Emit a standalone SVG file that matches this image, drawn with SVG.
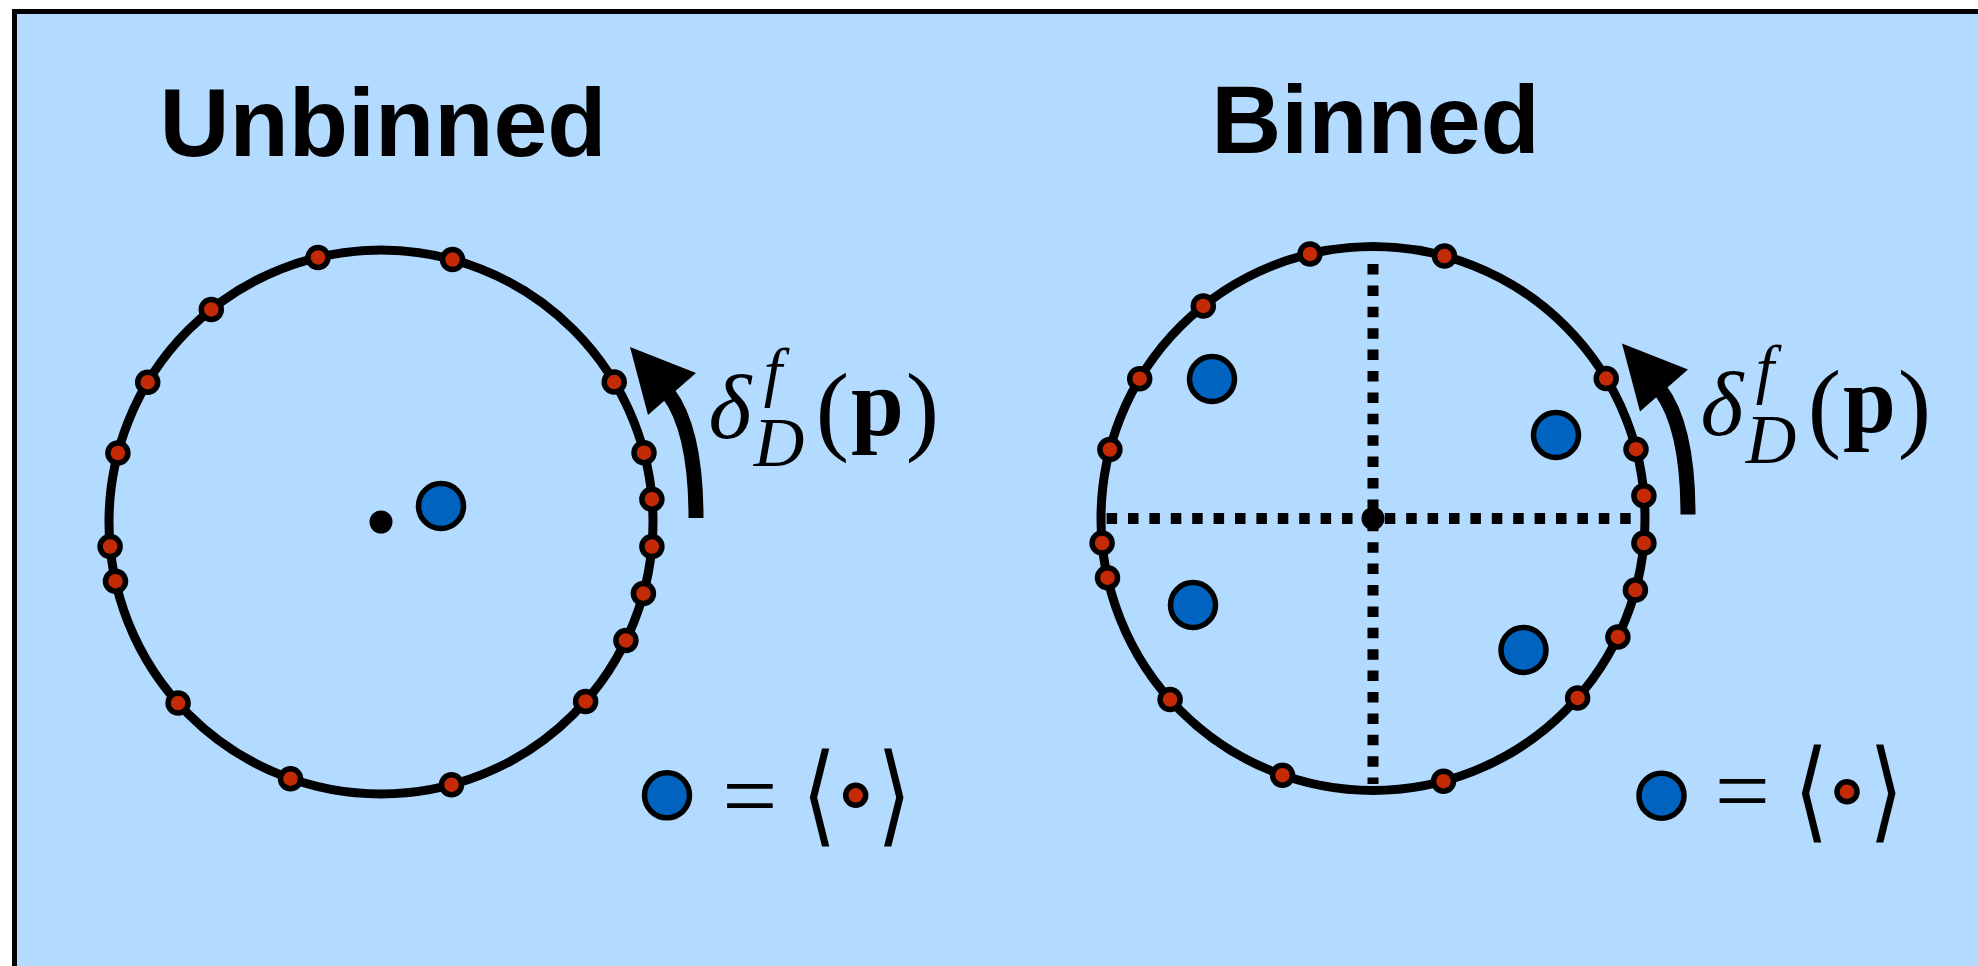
<svg xmlns="http://www.w3.org/2000/svg" width="1978" height="966" viewBox="0 0 1978 966">
<style>
.ring{fill:none;stroke:#000;stroke-width:9}
.rd{fill:#C42A06;stroke:#000;stroke-width:5.5}
.bd{fill:#0063BF;stroke:#000;stroke-width:5.5}
.title{font-family:"Liberation Sans",Arial,sans-serif;font-weight:bold;font-size:97px;fill:#000;text-anchor:middle}
.m{font-family:"Liberation Serif","Times New Roman",serif;fill:#000;text-anchor:middle}
.it{font-style:italic}
.bf{font-weight:bold}
.br{font-family:"DejaVu Sans",sans-serif;font-weight:200;font-size:110px;fill:#000;text-anchor:middle}
.grid{stroke:#000;stroke-width:11;stroke-dasharray:10.5 10.9;fill:none}
.shaft{fill:none;stroke:#000;stroke-width:15}
</style>
<defs>
<g id="ringdots">
<circle class="ring" r="272"/>
<circle class="rd" r="10" cx="-63" cy="-264.6"/>
<circle class="rd" r="10" cx="71.5" cy="-262.4"/>
<circle class="rd" r="10" cx="-169.7" cy="-212.6"/>
<circle class="rd" r="10" cx="-233.3" cy="-139.8"/>
<circle class="rd" r="10" cx="-263.1" cy="-69"/>
<circle class="rd" r="10" cx="-270.9" cy="24.5"/>
<circle class="rd" r="10" cx="-265.5" cy="59.2"/>
<circle class="rd" r="10" cx="-202.9" cy="181.1"/>
<circle class="rd" r="10" cx="-90.5" cy="256.7"/>
<circle class="rd" r="10" cx="70.5" cy="262.7"/>
<circle class="rd" r="10" cx="204.6" cy="179.4"/>
<circle class="rd" r="10" cx="244.9" cy="118.4"/>
<circle class="rd" r="10" cx="262.4" cy="71.6"/>
<circle class="rd" r="10" cx="270.9" cy="24.6"/>
<circle class="rd" r="10" cx="270.9" cy="-22.8"/>
<circle class="rd" r="10" cx="263" cy="-69.3"/>
<circle class="rd" r="10" cx="233.2" cy="-139.9"/>
</g>
<g id="arrow">
<path class="shaft" d="M315 -4 Q315 -92 287 -129"/>
<polygon points="249,-175 315,-149 267,-107" fill="#000"/>
</g>
<g id="label">
<text class="m it" x="349" y="-84" font-size="92">δ</text>
<text class="m it" x="392" y="-128" font-size="66">f</text>
<text class="m it" x="398" y="-56" font-size="70">D</text>
<text class="m" x="451.5" y="-80" font-size="100">(</text>
<text class="m bf" x="496.5" y="-87" font-size="95">p</text>
<text class="m" x="541.5" y="-80" font-size="100">)</text>
</g>
</defs>

<g id="panel">
<rect x="14.5" y="11.5" width="2100" height="1100" fill="#B3DAFF" stroke="#000" stroke-width="5"/>
</g>

<g id="unbinned">
<text class="title" x="383" y="156">Unbinned</text>
<use href="#ringdots" x="381" y="522"/>
<circle cx="381" cy="522" r="11.5" fill="#000"/>
<circle class="bd" cx="441" cy="506" r="22.5"/>
<use href="#label" x="381" y="522"/>
<g id="legend-unbinned">
<circle class="bd" cx="667" cy="795.3" r="22.5"/>
<text class="m" x="750" y="828" font-size="98">=</text>
<text class="br" transform="translate(818.8,832) scale(0.8,1)">⟨</text>
<circle class="rd" cx="855.7" cy="795.3" r="10"/>
<text class="br" transform="translate(894,832) scale(0.8,1)">⟩</text>
</g>
</g>

<g id="binned">
<text class="title" x="1375.5" y="153">Binned</text>
<path class="grid" d="M1373 264 V784 M1106.6 518.5 H1639"/>
<use href="#ringdots" x="1373" y="518.5"/>
<circle cx="1373" cy="518.5" r="11.5" fill="#000"/>
<circle class="bd" cx="1212" cy="379" r="22.5"/>
<circle class="bd" cx="1556" cy="435" r="22.5"/>
<circle class="bd" cx="1193" cy="605" r="22.5"/>
<circle class="bd" cx="1523.5" cy="650" r="22.5"/>
<use href="#label" x="1373" y="518.5"/>
<g id="legend-binned">
<circle class="bd" cx="1661.5" cy="795.7" r="22.5"/>
<text class="m" x="1742.5" y="822.5" font-size="98">=</text>
<text class="br" transform="translate(1811,828) scale(0.8,1)">⟨</text>
<circle class="rd" cx="1847" cy="791.7" r="10"/>
<text class="br" transform="translate(1886,828) scale(0.8,1)">⟩</text>
</g>
</g>

<g id="connectors">
<use href="#arrow" x="381" y="522"/>
<use href="#arrow" x="1373" y="518.5"/>
</g>
</svg>
